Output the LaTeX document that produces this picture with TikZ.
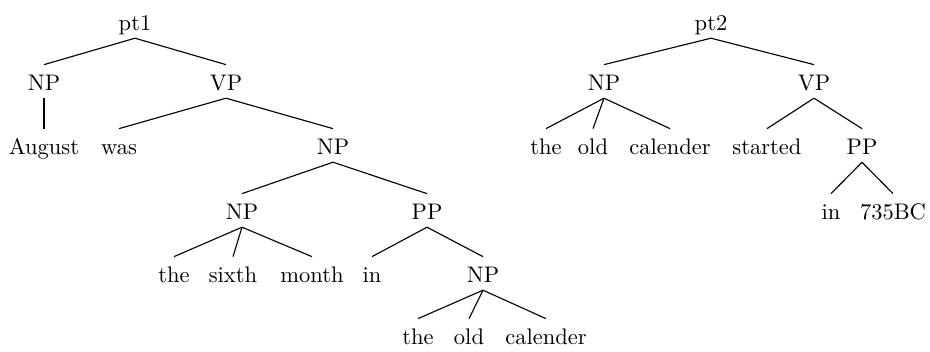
\documentclass[tikz,border=0pt]{standalone}
\begin{document}
\begin{tikzpicture}[x=0.444pt,y=-0.444pt,
  tn/.style={inner xsep=1pt, inner ysep=3pt, text height=8.5pt, text depth=0pt, anchor=base},
  edge/.style={line width=0.5pt}]
\useasboundingbox (0,0) rectangle (930,352);
% tree 1
\node[tn] (pta) at (135,31) {pt1};
\node[tn] (npa) at (44,91) {NP};
\node[tn] (vpa) at (226,91) {VP};
\node[tn] (aug) at (44,155) {August};
\node[tn] (was) at (119,155) {was};
\node[tn] (npb) at (333,155) {NP};
\node[tn] (npc) at (242,220) {NP};
\node[tn] (ppa) at (427,220) {PP};
\node[tn] (thea) at (174,283) {the};
\node[tn] (six) at (233,283) {sixth};
\node[tn] (mon) at (312,283) {month};
\node[tn] (ina) at (372,283) {in};
\node[tn] (npd) at (483,283) {NP};
\node[tn] (theb) at (418,345) {the};
\node[tn] (olda) at (469,345) {old};
\node[tn] (cala) at (546,345) {calender};
\foreach \p/\c in {pta/npa,pta/vpa,npa/aug,vpa/was,vpa/npb,npb/npc,npb/ppa,npc/thea,npc/six,npc/mon,ppa/ina,ppa/npd,npd/theb,npd/olda,npd/cala}
  \draw[edge] (\p.south) -- (\c.north);
% tree 2
\node[tn] (ptb) at (711,31) {pt2};
\node[tn] (npe) at (604,91) {NP};
\node[tn] (vpb) at (814,91) {VP};
\node[tn] (thec) at (546,155) {the};
\node[tn] (oldb) at (593,155) {old};
\node[tn] (calb) at (670,155) {calender};
\node[tn] (sta) at (767,155) {started};
\node[tn] (ppb) at (862,155) {PP};
\node[tn] (inb) at (831,220) {in};
\node[tn] (bc) at (893,220) {735BC};
\foreach \p/\c in {ptb/npe,ptb/vpb,npe/thec,npe/oldb,npe/calb,vpb/sta,vpb/ppb,ppb/inb,ppb/bc}
  \draw[edge] (\p.south) -- (\c.north);
\end{tikzpicture}
\end{document}
